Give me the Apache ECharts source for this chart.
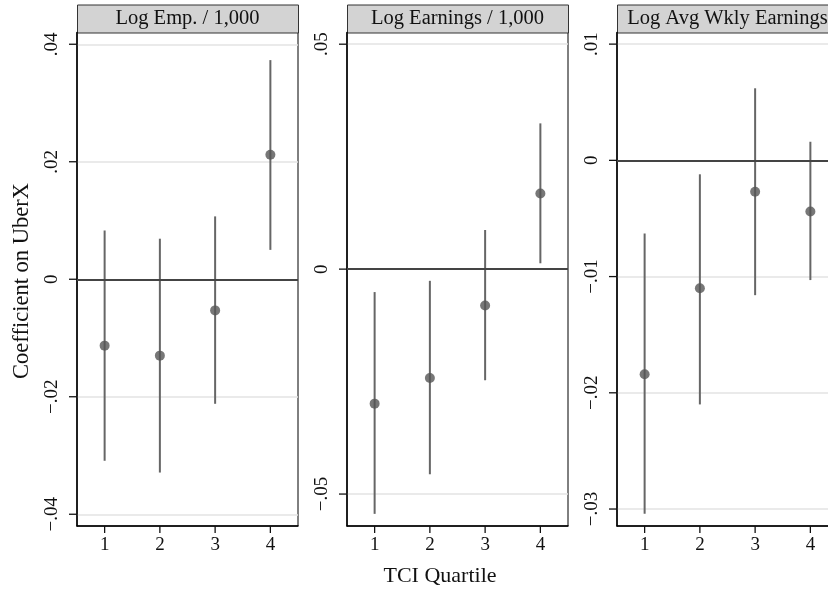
<!DOCTYPE html>
<html>
<head>
<meta charset="utf-8">
<script src="https://cdn.jsdelivr.net/npm/echarts@6/dist/echarts.min.js"></script>
<style>
  html, body { margin: 0; padding: 0; background: #fff; }
  #main { width: 828px; height: 592px; }
</style>
</head>
<body>
<div id="main"></div>
<script>
// TCI 分位数
var quartiles = ['1', '2', '3', '4'];

// Log Emp. / 1,000
var empCoef = [-0.0113, -0.0130, -0.0053, 0.0212];
var empLo   = [-0.0309, -0.0329, -0.0212, 0.0050];
var empHi   = [0.0083, 0.0069, 0.0107, 0.0373];

// Log Earnings / 1,000
var earnCoef = [-0.0299, -0.0242, -0.0081, 0.0168];
var earnLo   = [-0.0544, -0.0456, -0.0247, 0.0013];
var earnHi   = [-0.0051, -0.0026, 0.0087, 0.0324];

// Log Avg Wkly Earnings
var wklyCoef = [-0.0184, -0.0110, -0.0027, -0.0044];
var wklyLo   = [-0.0304, -0.0210, -0.0116, -0.0103];
var wklyHi   = [-0.0063, -0.0012, 0.0062, 0.0016];

var panelTitles = ['Log Emp. / 1,000', 'Log Earnings / 1,000', 'Log Avg Wkly Earnings'];
var empTicks  = [-0.04, -0.02, 0, 0.02, 0.04];
var earnTicks = [-0.05, 0, 0.05];
var wklyTicks = [-0.03, -0.02, -0.01, 0, 0.01];
var yRanges = [[-0.042, 0.042], [-0.0571, 0.0526], [-0.03146, 0.011]];

var panels = [
    {coef: empCoef, lo: empLo, hi: empHi, ticks: empTicks},
    {coef: earnCoef, lo: earnLo, hi: earnHi, ticks: earnTicks},
    {coef: wklyCoef, lo: wklyLo, hi: wklyHi, ticks: wklyTicks}
];

var FONT = 'Liberation Serif';
var lefts = [77, 347, 617];
var plotW = 221, plotTop = 32.5, plotH = 493.5;
var headTop = 4.5;

function fmt(v) {
    if (Math.abs(v) < 1e-9) return '0';
    var s = Math.abs(v).toFixed(2).replace(/^0/, '');
    return (v < 0 ? '\u2212' : '') + s;
}

var grid = [], xAxis = [], yAxis = [], series = [], graphic = [];

for (var i = 0; i < panels.length; i++) {
    var p = panels[i];
    grid.push({
        left: lefts[i], top: plotTop, width: plotW, height: plotH,
        outerBoundsMode: 'none', containLabel: false,
        show: true, borderColor: '#000', borderWidth: 1, backgroundColor: 'transparent'
    });
    xAxis.push({
        type: 'category', gridIndex: i, data: quartiles, boundaryGap: true,
        position: 'bottom',
        axisLine: {show: true, onZero: false, lineStyle: {color: '#000', width: 1.5}},
        axisTick: {show: false},
        axisLabel: {fontFamily: FONT, fontSize: 19, color: '#111', margin: 10, interval: 0},
        splitLine: {show: false}
    });
    yAxis.push({
        type: 'value', gridIndex: i, min: yRanges[i][0], max: yRanges[i][1],
        position: 'left',
        axisLine: {show: true, onZero: false, lineStyle: {color: '#000', width: 1.5}},
        axisTick: {show: false, customValues: p.ticks},
        axisLabel: {
            customValues: p.ticks, rotate: 90, fontFamily: FONT, fontSize: 19,
            color: '#111', margin: 15, formatter: fmt
        },
        splitLine: {show: true, lineStyle: {color: '#e3e3e3', width: 1.5}}
    });

    // 置信区间竖线
    var ci = [];
    for (var k = 0; k < quartiles.length; k++) ci.push([k, p.lo[k], p.hi[k]]);
    series.push({
        type: 'custom', xAxisIndex: i, yAxisIndex: i, data: ci, silent: true, z: 3,
        renderItem: function (params, api) {
            var a = api.coord([api.value(0), api.value(1)]);
            var b = api.coord([api.value(0), api.value(2)]);
            return {
                type: 'line',
                shape: {x1: a[0], y1: a[1], x2: b[0], y2: b[1]},
                style: {stroke: '#666', lineWidth: 2}
            };
        }
    });
    series.push({
        type: 'scatter', xAxisIndex: i, yAxisIndex: i, data: p.coef,
        symbol: 'circle', symbolSize: 10, z: 4,
        itemStyle: {color: '#555'},
        markLine: {
            silent: true, symbol: 'none', label: {show: false},
            lineStyle: {color: '#444', width: 2, type: 'solid'},
            data: [{yAxis: 0}]
        }
    });

    // 面板标题
    graphic.push({
        type: 'rect', left: lefts[i], top: headTop,
        shape: {width: plotW, height: plotTop - headTop},
        style: {fill: '#d3d3d3', stroke: '#333', lineWidth: 1}
    });
    graphic.push({
        type: 'text', x: lefts[i] + plotW / 2, y: (headTop + plotTop) / 2,
        style: {
            text: panelTitles[i], fontFamily: FONT, fontSize: 20.5, fill: '#111',
            textAlign: 'center', textVerticalAlign: 'middle'
        }
    });
}

graphic.push({
    type: 'text', x: 22, y: 281, rotation: Math.PI / 2,
    style: {
        text: 'Coefficient on UberX', fontFamily: FONT, fontSize: 22.5, fill: '#111',
        textAlign: 'center', textVerticalAlign: 'middle'
    }
});
graphic.push({
    type: 'text', x: 440, y: 576,
    style: {
        text: 'TCI Quartile', fontFamily: FONT, fontSize: 22, fill: '#111',
        textAlign: 'center', textVerticalAlign: 'middle'
    }
});

var echart = echarts.init(document.getElementById('main'), null, {renderer: 'canvas'});
echart.setOption({
    animation: false,
    backgroundColor: '#fff',
    grid: grid,
    xAxis: xAxis,
    yAxis: yAxis,
    series: series
});

// 刻度线：位置由坐标轴换算
for (var j = 0; j < panels.length; j++) {
    var bottomY = echart.convertToPixel({yAxisIndex: j}, yRanges[j][0]);
    panels[j].ticks.forEach(function (v) {
        var ty = echart.convertToPixel({yAxisIndex: j}, v);
        graphic.push({
            type: 'line', silent: true, z: 10,
            shape: {x1: lefts[j] - 8, y1: ty, x2: lefts[j], y2: ty},
            style: {stroke: '#111', lineWidth: 1.3}
        });
    });
    quartiles.forEach(function (q) {
        var tx = echart.convertToPixel({xAxisIndex: j}, q);
        graphic.push({
            type: 'line', silent: true, z: 10,
            shape: {x1: tx, y1: bottomY, x2: tx, y2: bottomY + 7},
            style: {stroke: '#111', lineWidth: 1.3}
        });
    });
}

echart.setOption({graphic: graphic});
</script>
</body>
</html>
